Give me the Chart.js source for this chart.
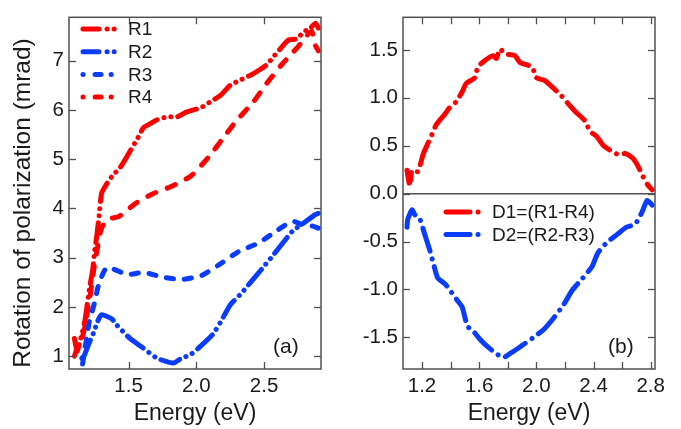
<!DOCTYPE html>
<html>
<head>
<meta charset="utf-8">
<script src="https://cdn.jsdelivr.net/npm/chart.js@4/dist/chart.umd.min.js"></script>
<style>
  html,body{margin:0;padding:0;background:#fff;}
  #wrap{position:relative;width:681px;height:429px;overflow:hidden;}
  canvas{position:absolute;top:0;}
</style>
</head>
<body>
<div id="wrap">
  <canvas id="cA" width="340" height="429" style="left:0px"></canvas>
  <canvas id="cB" width="341" height="429" style="left:340px"></canvas>
</div>
<script>
// ---------------- data ----------------
const r1E = [1.10,1.12,1.14,1.16,1.18,1.21,1.235,1.25,1.265,1.28,1.30,1.33,1.38,1.44,1.51,1.57,1.61,1.66,1.71,1.79,1.86,1.93,2.03,2.10,2.18,2.25,2.32,2.41,2.47,2.52,2.57,2.62,2.68,2.74,2.79,2.84,2.88,2.90];
const r1V = [1.36,1.10,1.30,1.50,1.76,2.36,2.76,3.16,3.44,3.80,4.30,4.46,4.66,4.84,5.16,5.44,5.64,5.72,5.80,5.86,5.86,5.96,6.04,6.16,6.30,6.50,6.60,6.72,6.82,6.92,7.08,7.24,7.42,7.44,7.58,7.66,7.76,7.66];

const r2E = [1.155,1.17,1.205,1.245,1.27,1.30,1.375,1.41,1.51,1.59,1.71,1.83,1.88,1.96,2.03,2.12,2.18,2.25,2.34,2.40,2.45,2.51,2.57,2.65,2.71,2.79,2.87,2.90];
const r2V = [0.96,1.00,1.24,1.50,1.70,1.84,1.76,1.64,1.36,1.20,0.96,0.86,0.94,1.04,1.20,1.44,1.70,2.04,2.30,2.50,2.66,2.86,3.06,3.34,3.54,3.70,3.86,3.90];

const r3E = [1.16,1.19,1.21,1.25,1.28,1.34,1.49,1.61,1.76,1.90,2.04,2.18,2.31,2.46,2.60,2.71,2.79,2.86,2.90];
const r3V = [0.84,1.36,1.70,2.10,2.46,2.80,2.66,2.70,2.60,2.56,2.64,2.88,3.12,3.30,3.56,3.74,3.66,3.64,3.60];

const r4E = [1.10,1.13,1.16,1.19,1.22,1.245,1.27,1.30,1.35,1.43,1.55,1.68,1.81,1.96,2.09,2.19,2.29,2.42,2.52,2.63,2.69,2.75,2.80,2.85,2.88,2.90];
const r4V = [1.00,1.25,1.40,1.80,2.30,2.80,3.20,3.60,3.78,3.84,4.10,4.30,4.44,4.66,5.04,5.40,5.76,6.16,6.54,6.92,7.10,7.28,7.45,7.60,7.30,7.20];

const d1E = [1.095,1.11,1.12,1.13,1.17,1.21,1.24,1.27,1.30,1.36,1.40,1.44,1.48,1.51,1.57,1.59,1.64,1.70,1.72,1.745,1.78,1.85,1.885,1.97,2.00,2.06,2.12,2.17,2.21,2.27,2.34,2.375,2.42,2.47,2.53,2.585,2.62,2.675,2.71,2.745,2.78,2.81];
const d1V = [0.245,0.11,0.14,0.245,0.23,0.42,0.52,0.62,0.72,0.83,0.91,0.96,1.06,1.15,1.21,1.32,1.39,1.44,1.41,1.51,1.46,1.44,1.37,1.32,1.21,1.18,1.10,1.03,0.96,0.86,0.76,0.65,0.60,0.50,0.44,0.40,0.42,0.37,0.29,0.18,0.09,0.04];

const d2E = [1.095,1.10,1.13,1.15,1.186,1.22,1.256,1.28,1.31,1.36,1.396,1.445,1.48,1.50,1.52,1.55,1.605,1.66,1.72,1.77,1.815,1.885,1.98,2.05,2.12,2.19,2.25,2.32,2.39,2.43,2.50,2.57,2.63,2.69,2.74,2.775,2.81];
const d2V = [-0.35,-0.27,-0.17,-0.22,-0.27,-0.43,-0.60,-0.73,-0.88,-0.94,-1.01,-1.11,-1.18,-1.29,-1.39,-1.42,-1.52,-1.60,-1.67,-1.71,-1.67,-1.60,-1.50,-1.42,-1.30,-1.16,-1.01,-0.89,-0.76,-0.62,-0.50,-0.42,-0.35,-0.32,-0.19,-0.07,-0.12];

// tick values / labels
const aXTicks = [1.5, 2.0, 2.5];
const aXLabels = ["1.5", "2.0", "2.5"];
const aYTicks = [1, 2, 3, 4, 5, 6, 7];
const aYLabels = ["1", "2", "3", "4", "5", "6", "7"];
const bXTicks = [1.2, 1.4, 1.6, 1.8, 2.0, 2.2, 2.4, 2.6, 2.8];
const bXLabels = ["1.2", "", "1.6", "", "2.0", "", "2.4", "", "2.8"];
const bYTicks = [-1.5, -1.0, -0.5, 0.0, 0.5, 1.0, 1.5];
const bYLabels = ["-1.5", "-1.0", "-0.5", "0.0", "0.5", "1.0", "1.5"];

const seriesNames = ["R1", "R2", "R3", "R4"];
const diffNames = ["D1=(R1-R4)", "D2=(R2-R3)"];
const yTitleA = "Rotation of polarization (mrad)";
const xTitle = "Energy (eV)";

// ---------------- styles ----------------
const RED = '#ff0000';
const BLUE = '#0a3cff';
const FONT = "'Liberation Sans', Arial, sans-serif";
const TXT = '#1a1a1a';
const FRAME = '#505050';

const dashDotDot = [20, 7, 0.1, 7, 0.1, 7];
const dashDot = [24, 8, 0.1, 8];
const shortDash = [7, 11];
const medDash = [9, 12];

function pts(E, V) { return E.map((e, i) => ({x: e, y: V[i]})); }

function ds(label, E, V, color, dash) {
  return {
    label, data: pts(E, V), borderColor: color, backgroundColor: color,
    borderWidth: 5, borderDash: dash, borderCapStyle: 'round', borderJoinStyle: 'round',
    pointRadius: 0, tension: 0.2, fill: false
  };
}

function fixedTicks(values) {
  return function (scale) { scale.ticks = values.map(v => ({value: v})); };
}

function line(ctx, x1, y1, x2, y2) { ctx.beginPath(); ctx.moveTo(x1, y1); ctx.lineTo(x2, y2); ctx.stroke(); }

const framePlugin = {
  id: 'frame',
  beforeDatasetsDraw(chart, args, o) {
    if (!o.zero) return;
    const {ctx, chartArea: a, scales: {y}} = chart;
    const y0 = y.getPixelForValue(0);
    ctx.save(); ctx.strokeStyle = FRAME; ctx.lineWidth = 1.5;
    line(ctx, a.left, y0, a.right, y0);
    ctx.restore();
  },
  afterDraw(chart, args, o) {
    const {ctx, chartArea: a, scales: {x, y}} = chart;
    ctx.save();
    ctx.strokeStyle = FRAME; ctx.lineWidth = 1.5;
    ctx.strokeRect(a.left, a.top, a.right - a.left, a.bottom - a.top);
    ctx.lineWidth = 1.3;
    const L = 7;
    x.ticks.forEach(t => {
      const px = Math.round(x.getPixelForValue(t.value)) + 0.5;
      line(ctx, px, a.bottom, px, a.bottom - L);
      line(ctx, px, a.top, px, a.top + L);
    });
    y.ticks.forEach(t => {
      const py = Math.round(y.getPixelForValue(t.value)) + 0.5;
      line(ctx, a.left, py, a.left + L, py);
      line(ctx, a.right, py, a.right - L, py);
    });
    // legend
    if (o.legend) {
      const lg = o.legend;
      chart.data.datasets.forEach((d, i) => {
        const yy = lg.y + i * lg.dy;
        ctx.save();
        ctx.strokeStyle = d.borderColor; ctx.lineWidth = 5; ctx.lineCap = 'round';
        ctx.setLineDash(lg.dash[i]);
        line(ctx, lg.x1, yy, lg.x2, yy);
        ctx.restore();
        ctx.fillStyle = TXT; ctx.font = lg.font; ctx.textBaseline = 'middle'; ctx.textAlign = 'left';
        ctx.fillText(d.label, lg.tx, yy + 1);
      });
    }
    if (o.tag) {
      ctx.fillStyle = TXT; ctx.font = "21px " + FONT; ctx.textBaseline = 'middle'; ctx.textAlign = 'left';
      ctx.fillText(o.tag.text, o.tag.x, o.tag.y);
    }
    if (o.ytitle) {
      ctx.save();
      ctx.translate(o.ytitle.x, o.ytitle.y);
      ctx.rotate(-Math.PI / 2);
      ctx.fillStyle = TXT; ctx.font = "24.5px " + FONT; ctx.textBaseline = 'middle'; ctx.textAlign = 'center';
      ctx.fillText(o.ytitle.text, 0, 0);
      ctx.restore();
    }
    ctx.restore();
  }
};

function axisCommon(min, max, tickVals, tickLabels) {
  return {
    type: 'linear', min, max,
    grid: {display: false, drawTicks: false},
    border: {display: false},
    afterBuildTicks: fixedTicks(tickVals),
    ticks: {
      color: TXT, font: {family: FONT, size: 20.5},
      callback: (v) => { const i = tickVals.findIndex(t => Math.abs(t - v) < 1e-6); return i >= 0 ? tickLabels[i] : ''; },
      autoSkip: false, maxRotation: 0, padding: 5
    }
  };
}

// ---------------- chart (a) ----------------
const xA = axisCommon(1.06, 2.92, aXTicks, aXLabels);
xA.title = {display: true, text: xTitle, color: TXT, font: {family: FONT, size: 23}, padding: {top: 0, bottom: 2}};
xA.afterFit = s => { s.height = 60; };
const yA = axisCommon(0.74, 7.88, aYTicks, aYLabels);
yA.afterFit = s => { s.width = 69; };

new Chart(document.getElementById('cA'), {
  type: 'line',
  data: {datasets: [
    ds(seriesNames[0], r1E, r1V, RED, dashDotDot),
    ds(seriesNames[1], r2E, r2V, BLUE, dashDotDot),
    ds(seriesNames[2], r3E, r3V, BLUE, shortDash),
    ds(seriesNames[3], r4E, r4V, RED, medDash)
  ]},
  options: {
    responsive: false, animation: false, devicePixelRatio: 1,
    layout: {padding: {left: 0, right: 19, top: 11, bottom: 0}},
    scales: {x: xA, y: yA},
    plugins: {
      legend: {display: false}, tooltip: {enabled: false},
      frame: {
        legend: {x1: 83, x2: 117, tx: 128, y: 29, dy: 22.7, font: "19px " + FONT,
                 dash: [[16, 8, 0.1, 7, 0.1, 7], [16, 8, 0.1, 7, 0.1, 7], [0.1, 12, 6, 10], [0.1, 12, 6, 10]]},
        tag: {text: '(a)', x: 273, y: 347},
        ytitle: {text: yTitleA, x: 23, y: 203}
      }
    }
  },
  plugins: [framePlugin]
});

// ---------------- chart (b) ----------------
const xB = axisCommon(1.067, 2.83, bXTicks, bXLabels);
xB.title = {display: true, text: xTitle, color: TXT, font: {family: FONT, size: 23}, padding: {top: 0, bottom: 2}};
xB.afterFit = s => { s.height = 60; };
const yB = axisCommon(-1.83, 1.84, bYTicks, bYLabels);
yB.afterFit = s => { s.width = 63; };

new Chart(document.getElementById('cB'), {
  type: 'line',
  data: {datasets: [
    ds(diffNames[0], d1E, d1V, RED, dashDot),
    ds(diffNames[1], d2E, d2V, BLUE, dashDot)
  ]},
  options: {
    responsive: false, animation: false, devicePixelRatio: 1,
    layout: {padding: {left: 0, right: 26, top: 11, bottom: 0}},
    scales: {x: xB, y: yB},
    plugins: {
      legend: {display: false}, tooltip: {enabled: false},
      frame: {
        zero: true,
        legend: {x1: 106, x2: 141, tx: 152, y: 212, dy: 22.5, font: "19px " + FONT,
                 dash: [[24, 8, 0.1, 8], [24, 8, 0.1, 8]]},
        tag: {text: '(b)', x: 268, y: 347}
      }
    }
  },
  plugins: [framePlugin]
});
</script>
</body>
</html>
